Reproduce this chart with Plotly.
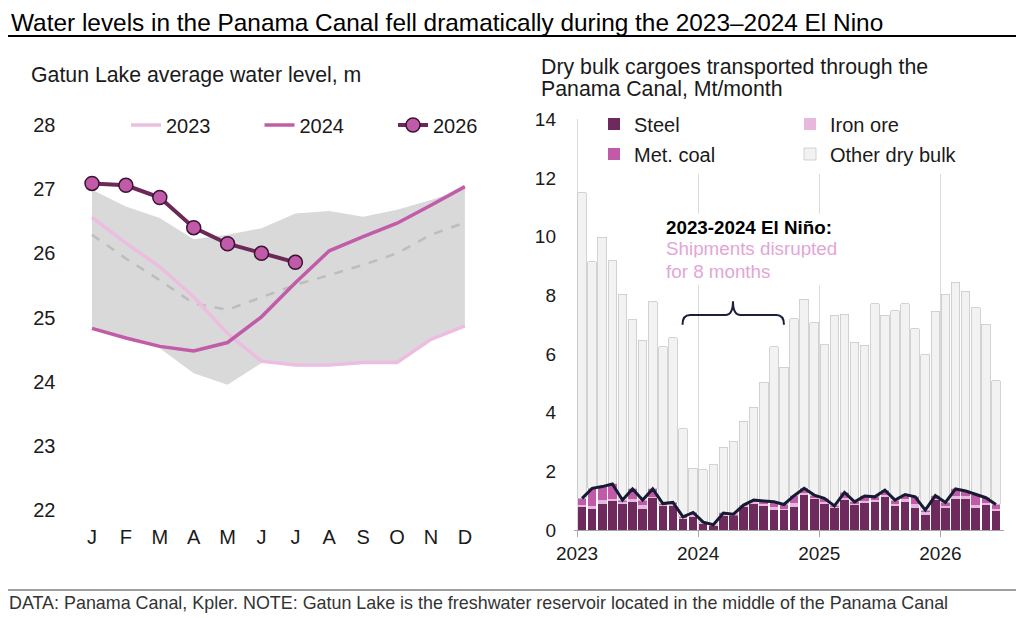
import numpy as np
import plotly.graph_objects as go

# ---- left panel: Gatun Lake level, m ----
month_labels = ["J", "F", "M", "A", "M", "J", "J", "A", "S", "O", "N", "D"]
month_idx = list(range(12))

level_2023 = [26.56, 26.16, 25.79, 25.32, 24.75, 24.32, 24.26, 24.26, 24.30, 24.30, 24.66, 24.87]
level_2024 = [24.83, 24.68, 24.55, 24.48, 24.61, 25.01, 25.54, 26.04, 26.26, 26.47, 26.75, 27.04]
level_2026 = [27.09, 27.06, 26.87, 26.40, 26.15, 26.00, 25.86]
level_avg = [26.29, 25.92, 25.58, 25.22, 25.12, 25.32, 25.51, 25.66, 25.82, 26.00, 26.29, 26.48]
range_hi = [26.99, 26.73, 26.55, 26.22, 26.29, 26.39, 26.62, 26.66, 26.57, 26.68, 26.83, 27.01]
range_lo = [24.83, 24.68, 24.52, 24.13, 23.95, 24.29, 24.26, 24.26, 24.30, 24.30, 24.66, 24.87]

# ---- right panel: dry bulk through the canal, Mt/month (Jan 2023 - Jun 2026) ----
year_labels = ["2023", "2024", "2025", "2026"]
steel = [0.79, 0.73, 0.88, 1.00, 0.90, 0.96, 0.73, 1.10, 0.84, 0.84, 0.39, 0.45,
         0.22, 0.16, 0.50, 0.48, 0.79, 0.90, 0.84, 0.68, 0.68, 0.79, 1.21, 1.05,
         0.90, 0.76, 1.02, 0.87, 0.94, 0.96, 1.13, 0.82, 0.94, 0.76, 0.50, 1.02,
         0.76, 1.07, 1.07, 0.76, 0.85, 0.64]
iron_ore = [0.05, 0.08, 0.14, 0.06, 0.04, 0.10, 0.12, 0.04, 0.02, 0.03, 0.02, 0.05,
            0.02, 0.01, 0.03, 0.02, 0.02, 0.04, 0.05, 0.10, 0.05, 0.12, 0.05, 0.04,
            0.05, 0.02, 0.08, 0.03, 0.06, 0.05, 0.05, 0.06, 0.10, 0.12, 0.10, 0.05,
            0.06, 0.08, 0.10, 0.10, 0.08, 0.08]
met_coal = [0.24, 0.61, 0.46, 0.51, 0.08, 0.34, 0.17, 0.26, 0.04, 0.07, 0.04, 0.10,
            0.03, 0.01, 0.05, 0.04, 0.04, 0.08, 0.10, 0.18, 0.14, 0.26, 0.16, 0.10,
            0.13, 0.04, 0.18, 0.06, 0.16, 0.12, 0.18, 0.14, 0.17, 0.25, 0.08, 0.10,
            0.12, 0.25, 0.16, 0.35, 0.17, 0.15]
other_bulk = [10.42, 7.73, 8.50, 7.60, 7.01, 5.77, 5.44, 6.38, 5.35, 5.61, 3.00, 1.50,
              1.78, 2.04, 2.24, 2.46, 2.86, 3.17, 4.04, 5.29, 4.67, 6.03, 6.44, 5.87,
              5.23, 6.50, 6.07, 5.44, 5.13, 6.59, 5.96, 6.45, 6.51, 5.73, 5.30, 6.29,
              7.09, 7.04, 6.81, 6.36, 5.91, 4.21]

W, H = 1024, 618
OFF = 8  # page margin around the plot div
FONT = "Liberation Sans, Arial, sans-serif"


def fx(px):
    return (px - OFF) / W


def fy(py):
    return 1 - (py - OFF) / H


bar_x = np.arange(len(steel)) + 0.5
core_total = np.array(steel) + np.array(iron_ore) + np.array(met_coal)

fig = go.Figure()

# historical range band + average
fig.add_trace(go.Scatter(x=month_idx, y=range_lo, mode="lines", line=dict(width=0),
                         showlegend=False, hoverinfo="skip"))
fig.add_trace(go.Scatter(x=month_idx, y=range_hi, mode="lines", line=dict(width=0),
                         fill="tonexty", fillcolor="#d9d9d9", showlegend=False, hoverinfo="skip"))
fig.add_trace(go.Scatter(x=month_idx, y=level_avg, mode="lines",
                         line=dict(color="#bdbdbd", width=2.5, dash="dash"), showlegend=False))

fig.add_trace(go.Scatter(x=month_idx, y=level_2023, mode="lines", name="2023",
                         line=dict(color="#ecbde1", width=3.5), legend="legend"))
fig.add_trace(go.Scatter(x=month_idx, y=level_2024, mode="lines", name="2024",
                         line=dict(color="#c15ca9", width=3.5), legend="legend"))
fig.add_trace(go.Scatter(x=month_idx[:len(level_2026)], y=level_2026, mode="lines+markers", name="2026",
                         line=dict(color="#6b2858", width=4),
                         marker=dict(size=14, color="#c25aaa", line=dict(color="#3b1433", width=1.5)),
                         legend="legend"))

# stacked bars
fig.add_trace(go.Bar(x=bar_x, y=steel, name="Steel", marker=dict(color="#6e2a5c", line=dict(width=0)),
                     xaxis="x2", yaxis="y2", legend="legend2"))
fig.add_trace(go.Bar(x=bar_x, y=iron_ore, name="Iron ore", marker=dict(color="#e8b7dd", line=dict(width=0)),
                     xaxis="x2", yaxis="y2", legend="legend2"))
fig.add_trace(go.Bar(x=bar_x, y=met_coal, name="Met. coal", marker=dict(color="#c25aaa", line=dict(width=0)),
                     xaxis="x2", yaxis="y2", legend="legend3"))
fig.add_trace(go.Bar(x=bar_x, y=other_bulk, name="Other dry bulk",
                     marker=dict(color="#f2f2f2", line=dict(color="#c8c8c8", width=0.8)),
                     xaxis="x2", yaxis="y2", legend="legend3"))
fig.add_trace(go.Scatter(x=bar_x, y=core_total, mode="lines", line=dict(color="#161b33", width=3),
                         xaxis="x2", yaxis="y2", showlegend=False))

# curly brace over the El Nino gap
brace = ("M 10.45,7.0 Q 10.45,7.33 11.2,7.33 L 14.7,7.33 Q 15.45,7.33 15.45,7.8 "
         "Q 15.45,7.33 16.2,7.33 L 19.75,7.33 Q 20.5,7.33 20.5,7.0")

legend_common = dict(orientation="h", xanchor="left", yanchor="middle", traceorder="normal",
                     font=dict(size=20), borderwidth=0)

# El Nino note, one line per annotation so the spacing stays tight
nino_lines = [("<b>2023-2024 El Niño:</b>", "#000000", 227),
              ("Shipments disrupted", "#e2a6d6", 249),
              ("for 8 months", "#e2a6d6", 271)]
nino_notes = [dict(text=t, xref="paper", yref="paper", x=fx(662), y=fy(py), xanchor="left",
                   yanchor="middle", align="left", width=178, showarrow=False, bgcolor="white",
                   borderpad=3, font=dict(size=18.8, color=c))
              for t, c, py in nino_lines]

fig.update_layout(
    width=W, height=H,
    margin=dict(l=0, r=0, t=0, b=0, autoexpand=False),
    paper_bgcolor="white", plot_bgcolor="white",
    font=dict(family=FONT, size=20, color="#1a1a1a"),
    barmode="stack", bargap=0.15,
    xaxis=dict(domain=[fx(61.5), fx(488.6)], range=[-0.9, 11.7], tickvals=month_idx,
               ticktext=month_labels, showgrid=False, zeroline=False, showline=False,
               automargin=False, ticklabelstandoff=3, tickfont=dict(size=20)),
    yaxis=dict(domain=[fy(519.6), fy(115.4)], range=[21.85, 28.15], tickvals=list(range(22, 29)),
               showgrid=False, zeroline=False, showline=False, automargin=False,
               ticklabelstandoff=5, tickfont=dict(size=20)),
    xaxis2=dict(domain=[fx(574), fx(1004)], range=[-0.3, 42.3], anchor="y2",
                tickvals=[0, 12, 24, 36], ticktext=year_labels, showgrid=True, gridcolor="#d9d9d9",
                zeroline=False, showline=True, linecolor="#a6a6a6", linewidth=1, automargin=False,
                ticks="outside", ticklen=6, tickcolor="#a6a6a6", tickfont=dict(size=19)),
    yaxis2=dict(domain=[fy(530), fy(119.3)], range=[0, 14], dtick=2, anchor="x2",
                showgrid=False, zeroline=False, showline=False, automargin=False,
                tickfont=dict(size=19), ticklabelstandoff=17),
    legend=dict(legend_common, x=fx(126), y=fy(125), entrywidth=88.5, bgcolor="rgba(0,0,0,0)"),
    legend2=dict(legend_common, x=fx(594), y=fy(124), entrywidth=151, bgcolor="white"),
    legend3=dict(legend_common, x=fx(594), y=fy(154), entrywidth=151, bgcolor="white"),
    shapes=[
        dict(type="line", xref="paper", yref="paper", x0=0, x1=1, y0=fy(36), y1=fy(36),
             line=dict(color="#000000", width=1.8)),
        dict(type="line", xref="paper", yref="paper", x0=0, x1=1, y0=fy(590), y1=fy(590),
             line=dict(color="#7f7f7f", width=1.3)),
        dict(type="path", xref="x2", yref="y2", path=brace, line=dict(color="#1b1f3b", width=2)),
    ],
    annotations=[
        dict(text="Water levels in the Panama Canal fell dramatically during the 2023\u20132024 El Nino",
             xref="paper", yref="paper", x=fx(9), y=fy(22.3), xanchor="left", yanchor="middle",
             showarrow=False, font=dict(size=24.4, color="#000000")),
        dict(text="Gatun Lake average water level, m", xref="paper", yref="paper",
             x=fx(29), y=fy(75), xanchor="left", yanchor="middle", showarrow=False,
             font=dict(size=21.3)),
        dict(text="Dry bulk cargoes transported through the", xref="paper", yref="paper",
             x=fx(539), y=fy(67), xanchor="left", yanchor="middle", showarrow=False,
             font=dict(size=21.3)),
        dict(text="Panama Canal, Mt/month", xref="paper", yref="paper",
             x=fx(539), y=fy(89), xanchor="left", yanchor="middle", showarrow=False,
             font=dict(size=21.3)),
        *nino_notes,
        dict(text="DATA: Panama Canal, Kpler. NOTE: Gatun Lake is the freshwater reservoir located "
                  "in the middle of the Panama Canal",
             xref="paper", yref="paper", x=fx(7), y=fy(603), xanchor="left", yanchor="middle",
             showarrow=False, font=dict(size=17.9, color="#333333")),
    ],
)

fig.write_html("out.html")
